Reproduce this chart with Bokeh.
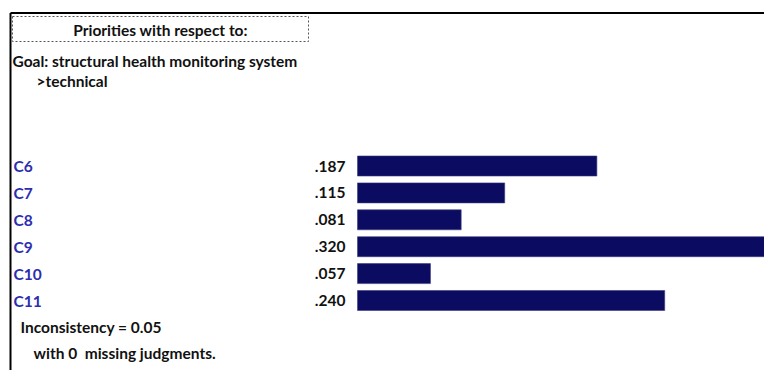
from bokeh.plotting import figure
from bokeh.models import Range1d
from bokeh.core.properties import value
from bokeh.embed import file_html
from bokeh.resources import INLINE

# ---- data ----
categories = ["C6", "C7", "C8", "C9", "C10", "C11"]
priorities = [0.187, 0.115, 0.081, 0.320, 0.057, 0.240]
value_labels = [".187", ".115", ".081", ".320", ".057", ".240"]
header_title = "Priorities with respect to:"
goal_line1 = "Goal: structural health monitoring system"
goal_line2 = ">technical"
inconsistency_text = "Inconsistency = 0.05"
missing_text = "with 0\u00a0 missing judgments."

# ---- layout (screen pixel geometry of the page) ----
W, H = 764, 370
OX, OY = 0, 0
BAR_X0 = 357             # pixel where value 0 sits
PX_PER_UNIT = 1280.0     # pixels per priority unit
ROW0_Y = 165.5           # pixel centre of first row
ROW_PITCH = 26.9         # pixels between rows

x_start = -(BAR_X0 - OX) / PX_PER_UNIT
x_end = x_start + W / PX_PER_UNIT
y_top = (OY - ROW0_Y) / ROW_PITCH
y_bot = y_top + H / ROW_PITCH

def px(X):
    return x_start + (X - OX) / PX_PER_UNIT

def py(Y):
    return (Y - ROW0_Y) / ROW_PITCH

FONT = value("Lato")
FS = "15.5px"

p = figure(width=W, height=H, output_backend="svg", toolbar_location=None,
           x_range=Range1d(x_start, x_end), y_range=Range1d(y_bot, y_top),
           min_border=0)
p.axis.visible = False
p.grid.visible = False
p.outline_line_color = None
p.background_fill_color = "white"

rows = list(range(len(categories)))

# bars
p.hbar(y=rows, left=0, right=priorities, height=20 / ROW_PITCH,
       fill_color="#0b0b62", line_color="#3a3a80", line_width=0.6)

# category labels
p.text(x=[px(13)] * len(rows), y=rows, text=categories, text_font=FONT,
       text_font_style="bold", text_font_size=FS, text_color="#2d2db0",
       text_baseline="middle", text_align="left")

# value labels
p.text(x=[px(345)] * len(rows), y=rows, text=value_labels, text_font=FONT,
       text_font_style="bold", text_font_size=FS, text_color="#111111",
       text_baseline="middle", text_align="right")

# frame lines (top and left)
p.segment(x0=[px(10)], y0=[py(12.5)], x1=[px(800)], y1=[py(12.5)],
          line_color="black", line_width=2)
p.segment(x0=[px(10)], y0=[py(12.5)], x1=[px(10)], y1=[py(400)],
          line_color="black", line_width=2)

# dotted header box
p.quad(left=[px(12)], right=[px(308)], top=[py(16)], bottom=[py(41)],
       fill_color=None, line_color="#555555", line_dash="2 2", line_width=1)

p.text(x=[px(160)], y=[py(29)], text=[header_title], text_font=FONT,
       text_font_style="bold", text_font_size=FS, text_color="#111111",
       text_baseline="middle", text_align="center")
p.text(x=[px(12)], y=[py(60)], text=[goal_line1], text_font=FONT,
       text_font_style="bold", text_font_size=FS, text_color="#111111",
       text_baseline="middle", text_align="left")
p.text(x=[px(36)], y=[py(80)], text=[goal_line2], text_font=FONT,
       text_font_style="bold", text_font_size=FS, text_color="#111111",
       text_baseline="middle", text_align="left")
p.text(x=[px(20)], y=[py(326)], text=[inconsistency_text], text_font=FONT,
       text_font_style="bold", text_font_size=FS, text_color="#111111",
       text_baseline="middle", text_align="left")
p.text(x=[px(33)], y=[py(352)], text=[missing_text], text_font=FONT,
       text_font_style="bold", text_font_size=FS, text_color="#111111",
       text_baseline="middle", text_align="left")

open("out.html", "w").write(file_html(p, INLINE))
